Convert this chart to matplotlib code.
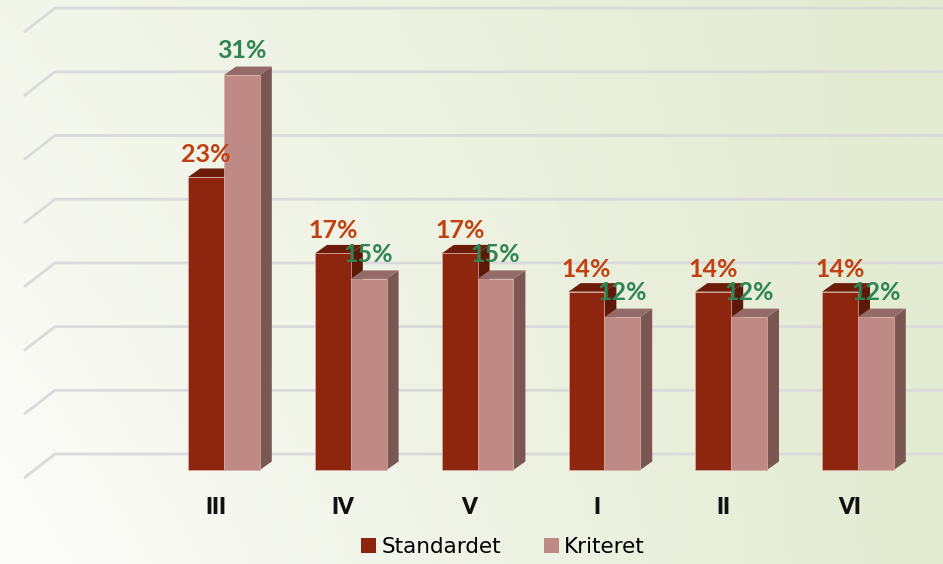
import numpy as np
import matplotlib.pyplot as plt
from matplotlib.patches import Polygon, Patch

# data
categories = ['III', 'IV', 'V', 'I', 'II', 'VI']
standardet = [23, 17, 17, 14, 14, 14]
kriteret = [31, 15, 15, 12, 12, 12]
series_names = ['Standardet', 'Kriteret']
grid_ticks = [0, 5, 10, 15, 20, 25, 30, 35]

W, H, DPI = 943, 564, 100
px_x = 126.8   # pixels per category step
px_y = 12.74   # pixels per percent

fig = plt.figure(figsize=(W / DPI, H / DPI), dpi=DPI)

# background gradient (white at lower left, pale green to the right)
bg = fig.add_axes([0, 0, 1, 1], zorder=0)
xx, yy = np.meshgrid(np.linspace(0, 1, 300), np.linspace(0, 1, 200))
t = np.clip(xx * 1.05 + 0.4 * (1 - yy) * (1 - xx), 0, 1)  # yy=0 is top row
white = np.array([253, 253, 251]) / 255
green = np.array([228, 235, 211]) / 255
img = white[None, None, :] + t[..., None] * (green - white)[None, None, :]
bg.imshow(img, aspect='auto', extent=[0, 1, 0, 1], origin='upper')
bg.axis('off')

ax = fig.add_axes([0, 0, 1, 1], zorder=1)
ax.patch.set_alpha(0)
ax.set_xlim(-224 / px_x, (W - 224) / px_x)
ax.set_ylim(-(H - 470) / px_y, 470 / px_y)
ax.axis('off')

# back-wall gridlines with perspective stub on the left
wall_up = 16 / px_y
x_wall = (55 - 224) / px_x
x_stub = (24 - 224) / px_x
stub_drop = 24 / px_y
for v in grid_ticks:
    y = v + wall_up
    ax.plot([x_stub, x_wall, ax.get_xlim()[1]], [y - stub_drop, y, y],
            color='#dadada', lw=2, zorder=1, solid_capstyle='butt')

bw = 35.8 / px_x
dx = 12 / px_x
dy = 8.5 / px_y

styles = [
    dict(front='#8e250f', top='#6c1c09', side='#5e1808', label='#c0410f'),
    dict(front='#bf8a86', top='#956b69', side='#7a5753', label='#2e8553'),
]


def bar3d(x0, h, st, z):
    x1 = x0 + bw
    side = Polygon([(x1, 0), (x1 + dx, dy), (x1 + dx, h + dy), (x1, h)],
                   closed=True, fc=st['side'], ec='none', zorder=z)
    top = Polygon([(x0, h), (x0 + dx, h + dy), (x1 + dx, h + dy), (x1, h)],
                  closed=True, fc=st['top'], ec='none', zorder=z)
    ax.add_patch(side)
    ax.add_patch(top)
    ax.bar(x0, h, width=bw, align='edge', color=st['front'],
           edgecolor='#d9b0a8', linewidth=0.5, zorder=z)


font = 'Lato'
for i, cat in enumerate(categories):
    xd = i - bw
    xl = i
    bar3d(xd, standardet[i], styles[0], 2 + i * 2)
    bar3d(xl, kriteret[i], styles[1], 3 + i * 2)
    ax.text(xd + bw / 2, standardet[i] + 15 / px_y, f'{standardet[i]}%',
            ha='center', va='baseline', fontsize=18, fontweight='bold',
            color=styles[0]['label'], family=font, zorder=20)
    ax.text(xl + bw / 2, kriteret[i] + 17 / px_y, f'{kriteret[i]}%',
            ha='center', va='baseline', fontsize=18, fontweight='bold',
            color=styles[1]['label'], family=font, zorder=21)
    ax.text(i - 8 / px_x, -38 / px_y, cat, ha='center', va='center',
            fontsize=16, fontweight='heavy', color='#111111', family=font)

handles = [Patch(facecolor=styles[0]['front']), Patch(facecolor=styles[1]['front'])]
fig.legend(handles, series_names, loc='center', bbox_to_anchor=(503 / W, 17 / H),
           ncol=2, frameon=False,
           prop={'family': 'DejaVu Sans', 'size': 15.5},
           handlelength=0.68, handleheight=0.68, handletextpad=0.25,
           columnspacing=2.0)

fig.savefig('out.png', dpi=DPI)
